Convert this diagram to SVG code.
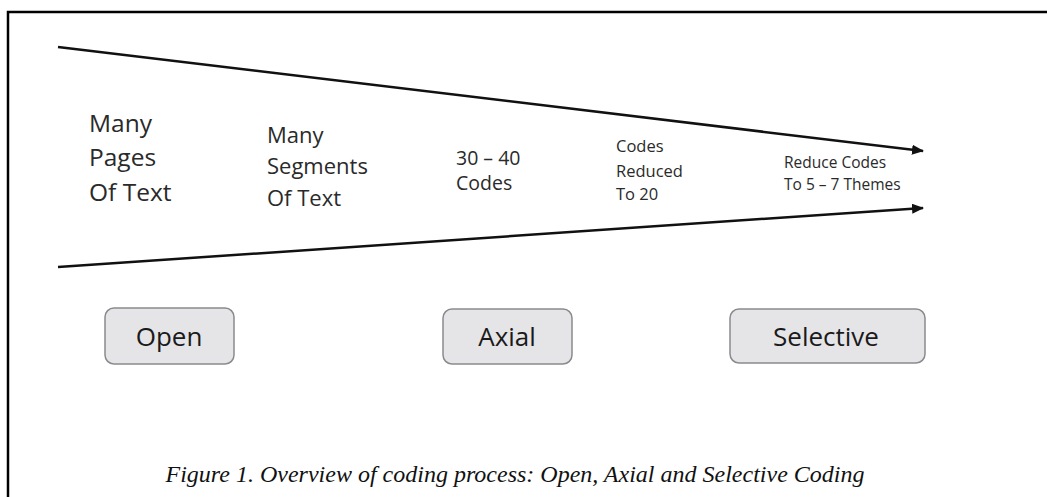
<svg xmlns="http://www.w3.org/2000/svg" width="1047" height="497" viewBox="0 0 1047 497">
  <defs>
    <marker id="ah" markerWidth="12" markerHeight="10" refX="11" refY="5" orient="auto" markerUnits="userSpaceOnUse">
      <path d="M0,0 L12,5 L0,10 Z" fill="#111"/>
    </marker>
    <style>
      .lbl{font-family:"Open Sans","Liberation Sans",sans-serif;fill:#2a2a2a;}
      .box{fill:#e5e5e8;stroke:#8a8a8e;stroke-width:1.5;}
      .btn{font-family:"Open Sans","Liberation Sans",sans-serif;font-size:26px;fill:#1a1a1a;text-anchor:middle;}
      .conn{stroke:#111;stroke-width:2.5;fill:none;}
    </style>
  </defs>
  <rect width="1047" height="497" fill="#fff"/>
  <path d="M8,497 L8,12 L1047,12" fill="none" stroke="#000" stroke-width="2.5"/>

  <g id="connectors">
    <line class="conn" x1="58" y1="47" x2="923" y2="151" marker-end="url(#ah)"/>
    <line class="conn" x1="58" y1="267" x2="923" y2="208" marker-end="url(#ah)"/>
  </g>

  <g id="stage1">
    <text class="lbl" font-size="24.5"><tspan x="89" y="132">Many</tspan><tspan x="89" y="166">Pages</tspan><tspan x="89" y="201">Of Text</tspan></text>
  </g>
  <g id="stage2">
    <text class="lbl" font-size="22"><tspan x="267" y="143">Many</tspan><tspan x="267" y="174">Segments</tspan><tspan x="267" y="206">Of Text</tspan></text>
  </g>
  <g id="stage3">
    <text class="lbl" font-size="19.5"><tspan x="456" y="165">30 – 40</tspan><tspan x="456" y="190">Codes</tspan></text>
  </g>
  <g id="stage4">
    <text class="lbl" font-size="16.5"><tspan x="616" y="152">Codes</tspan><tspan x="616" y="177">Reduced</tspan><tspan x="616" y="200">To 20</tspan></text>
  </g>
  <g id="stage5">
    <text class="lbl" font-size="15.5"><tspan x="784" y="168">Reduce Codes</tspan><tspan x="784" y="190">To 5 – 7 Themes</tspan></text>
  </g>

  <g id="open">
    <rect class="box" x="105" y="308" width="129" height="56" rx="9"/>
    <text class="btn" x="169" y="346">Open</text>
  </g>
  <g id="axial">
    <rect class="box" x="443" y="309" width="129" height="55" rx="9"/>
    <text class="btn" x="507" y="346">Axial</text>
  </g>
  <g id="selective">
    <rect class="box" x="730" y="309" width="195" height="54" rx="9"/>
    <text class="btn" x="826" y="346" font-size="27">Selective</text>
  </g>

  <g id="caption">
    <text x="515" y="482" text-anchor="middle" font-family="Liberation Serif, serif" font-style="italic" font-size="24" fill="#111">Figure 1. Overview of coding process: Open, Axial and Selective Coding</text>
  </g>
</svg>
